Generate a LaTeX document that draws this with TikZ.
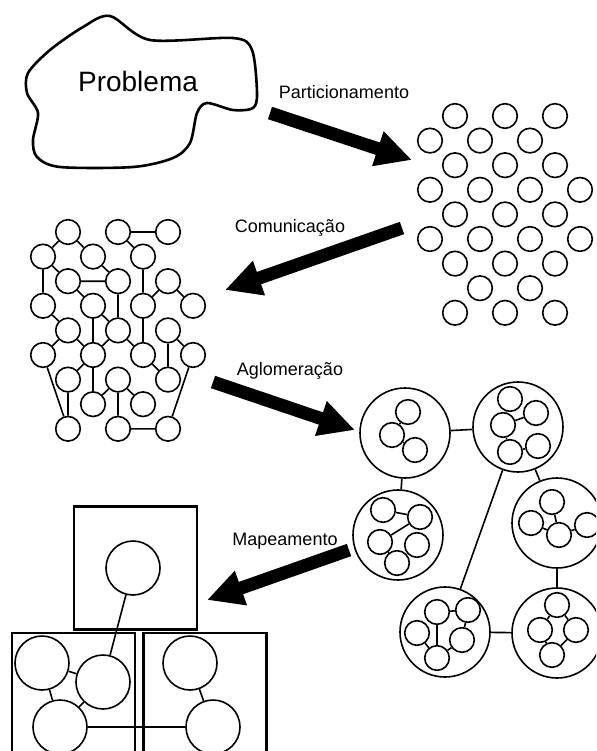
\documentclass[tikz,border=0pt]{standalone}
\usepackage{fontspec}
\setmainfont{Liberation Sans}
\usetikzlibrary{arrows.meta}

\tikzset{
  task/.style={
    circle,
    draw,
    line width=1.6pt,
    minimum size=24.6pt,
    inner sep=0pt
  },
  group/.style={
    circle,
    draw,
    line width=1.6pt,
    minimum size=90pt,
    inner sep=0pt
  },
  bigtask/.style={
    circle,
    draw,
    line width=1.6pt,
    minimum size=54pt,
    inner sep=0pt
  },
  proc/.style={
    rectangle,
    draw,
    line width=2.2pt,
    minimum size=123pt,
    inner sep=0pt
  },
  link/.style={line width=1.6pt},
  phase/.style={
    line width=13pt,
    -{Triangle[length=36pt,width=34pt]}
  },
  phase label/.style={
    font=\fontsize{18}{20}\selectfont,
    anchor=base
  }
}

\begin{document}
\begin{tikzpicture}[x=1pt,y=-1pt]
  \useasboundingbox (0,0) rectangle (596,751);
  \clip (0,0) rectangle (596,751);

  \draw[line width=2.6pt] plot [smooth cycle, tension=0.5] coordinates {(110,16)
	  (150,40) (233,38) (252,50) (257,93) (253,108) (233,110) (207,103)
	  (197,113) (190,143) (173,158) (133,167) (60,167) (37,157) (33,140)
	  (38,113) (27,93) (28,73) (50,50) (83,27)};
  \node[font=\fontsize{28}{30}\selectfont, anchor=base] (prob) at (138,92) {Problema};

  \node[task] (pa1) at (455,116) {};
  \node[task] (pa3) at (505,116) {};
  \node[task] (pa5) at (555,116) {};
  \node[task] (pb0) at (430,140.6) {};
  \node[task] (pb2) at (480,140.6) {};
  \node[task] (pb4) at (530,140.6) {};
  \node[task] (pc1) at (455,165.2) {};
  \node[task] (pc3) at (505,165.2) {};
  \node[task] (pc5) at (555,165.2) {};
  \node[task] (pd0) at (430,189.8) {};
  \node[task] (pd2) at (480,189.8) {};
  \node[task] (pd4) at (530,189.8) {};
  \node[task] (pd6) at (580,189.8) {};
  \node[task] (pe1) at (455,214.4) {};
  \node[task] (pe3) at (505,214.4) {};
  \node[task] (pe5) at (555,214.4) {};
  \node[task] (pf0) at (430,239) {};
  \node[task] (pf2) at (480,239) {};
  \node[task] (pf4) at (530,239) {};
  \node[task] (pf6) at (580,239) {};
  \node[task] (pg1) at (455,263.6) {};
  \node[task] (pg3) at (505,263.6) {};
  \node[task] (pg5) at (555,263.6) {};
  \node[task] (ph2) at (480,288.2) {};
  \node[task] (ph4) at (530,288.2) {};
  \node[task] (pi1) at (455,312.8) {};
  \node[task] (pi3) at (505,312.8) {};
  \node[task] (pi5) at (555,312.8) {};

  \node[task] (a1) at (68,232) {};
  \node[task] (a3) at (118,232) {};
  \node[task] (a5) at (168,232) {};
  \node[task] (b0) at (43,256.6) {};
  \node[task] (b2) at (93,256.6) {};
  \node[task] (b4) at (143,256.6) {};
  \node[task] (c1) at (68,281.2) {};
  \node[task] (c3) at (118,281.2) {};
  \node[task] (c5) at (168,281.2) {};
  \node[task] (d0) at (43,305.8) {};
  \node[task] (d2) at (93,305.8) {};
  \node[task] (d4) at (143,305.8) {};
  \node[task] (d6) at (193,305.8) {};
  \node[task] (e1) at (68,330.4) {};
  \node[task] (e3) at (118,330.4) {};
  \node[task] (e5) at (168,330.4) {};
  \node[task] (f0) at (43,355) {};
  \node[task] (f2) at (93,355) {};
  \node[task] (f4) at (143,355) {};
  \node[task] (f6) at (193,355) {};
  \node[task] (g1) at (68,379.6) {};
  \node[task] (g3) at (118,379.6) {};
  \node[task] (g5) at (168,379.6) {};
  \node[task] (h2) at (93,404.2) {};
  \node[task] (h4) at (143,404.2) {};
  \node[task] (i1) at (68,428.8) {};
  \node[task] (i3) at (118,428.8) {};
  \node[task] (i5) at (168,428.8) {};
  \draw[link] (b0) -- (a1) -- (b2) -- (c3) -- (c1) -- (b0) -- (d0) -- (e1);
  \draw[link] (a5) -- (a3) -- (b4) -- (d4) -- (c5) -- (d6);
  \draw[link] (c1) -- (d2) -- (e3) -- (c3);
  \draw[link] (d2) -- (f2) -- (e1) -- (f0) -- (i1) -- (g1) -- (f2) -- (h2) -- (g3);
  \draw[link] (e3) -- (f2);
  \draw[link] (e3) -- (f4) -- (d4);
  \draw[link] (f4) -- (g5) -- (e5) -- (f6) -- (i5) -- (i3) -- (g3) -- (h4);

  \node[group] (k1) at (405,433) {};
  \node[task] (k1a) at (408,412) {};
  \node[task] (k1b) at (392,435) {};
  \node[task] (k1c) at (415,450) {};
  \draw[link] (k1a) -- (k1b) -- (k1c);

  \node[group] (k2) at (518,427) {};
  \node[task] (k2a) at (510,399) {};
  \node[task] (k2b) at (536,413) {};
  \node[task] (k2c) at (503,425) {};
  \node[task] (k2d) at (510,452) {};
  \node[task] (k2e) at (538,446) {};
  \draw[link] (k2a) -- (k2c) -- (k2b);
  \draw[link] (k2c) -- (k2d) -- (k2e);

  \node[group] (k3) at (398,535) {};
  \node[task] (k3a) at (383,510) {};
  \node[task] (k3b) at (420,517) {};
  \node[task] (k3c) at (380,542) {};
  \node[task] (k3d) at (417,545) {};
  \node[task] (k3e) at (397,563) {};
  \draw[link] (k3a) -- (k3b) -- (k3c) -- (k3e);

  \node[group] (k4) at (557,523) {};
  \node[task] (k4a) at (552,502) {};
  \node[task] (k4b) at (531,523) {};
  \node[task] (k4c) at (559,535) {};
  \node[task] (k4d) at (587,525) {};
  \draw[link] (k4a) -- (k4c) -- (k4b);
  \draw[link] (k4c) -- (k4d);

  \node[group] (k5) at (445,632) {};
  \node[task] (k5a) at (437,612) {};
  \node[task] (k5b) at (468,610) {};
  \node[task] (k5c) at (417,633) {};
  \node[task] (k5d) at (462,640) {};
  \node[task] (k5e) at (437,658) {};
  \draw[link] (k5b) -- (k5a) -- (k5e) -- (k5c);
  \draw[link] (k5b) -- (k5d) -- (k5e);

  \node[group] (k6) at (557,633) {};
  \node[task] (k6a) at (557,605) {};
  \node[task] (k6b) at (540,630) {};
  \node[task] (k6c) at (576,630) {};
  \node[task] (k6d) at (552,655) {};
  \draw[link] (k6b) -- (k6a) -- (k6c) -- (k6d) -- (k6b);

  \draw[link] (k3) -- (k1) -- (k2) -- (k4) -- (k6) -- (k5) -- (k2);

  \node[proc] (s1) at (135.5,568) {};
  \node[proc] (s2) at (73.5,694.5) {};
  \node[proc] (s3) at (205,694.5) {};
  \node[bigtask] (t1) at (133,568) {};
  \node[bigtask] (l1) at (42,663) {};
  \node[bigtask] (l2) at (103,682) {};
  \node[bigtask] (l3) at (60,727) {};
  \node[bigtask] (r1) at (190,663) {};
  \node[bigtask] (r2) at (213,727) {};
  \draw[link] (t1) -- (l2) -- (l1) -- (l3) -- (l2);
  \draw[link] (l3) -- (r2) -- (r1);

  \coordinate (part0) at (270,113);
  \coordinate (part1) at (412,160);
  \draw[phase] (part0) -- (part1);
  \node[phase label] (lpart) at (344,99) {Particionamento};

  \coordinate (com0) at (402,228);
  \coordinate (com1) at (225,290);
  \draw[phase] (com0) -- (com1);
  \node[phase label] (lcom) at (290,233) {Comunicação};

  \coordinate (agl0) at (213,382);
  \coordinate (agl1) at (355,430);
  \draw[phase] (agl0) -- (agl1);
  \node[phase label] (lagl) at (290,375) {Aglomeração};

  \coordinate (map0) at (349,550);
  \coordinate (map1) at (207,600);
  \draw[phase] (map0) -- (map1);
  \node[phase label] (lmap) at (285,545) {Mapeamento};
\end{tikzpicture}
\end{document}
